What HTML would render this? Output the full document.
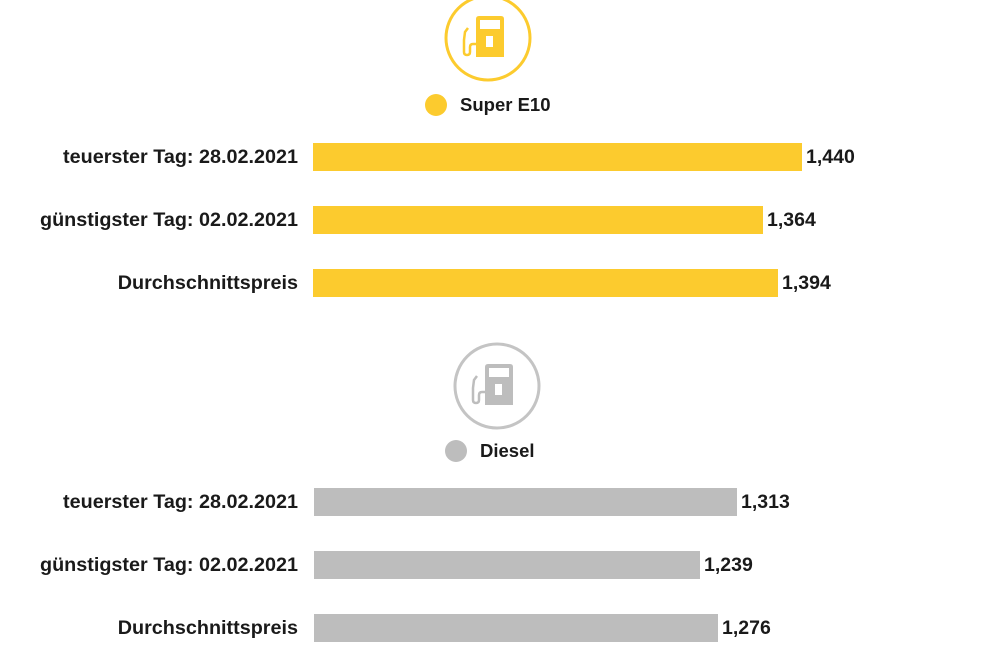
<!DOCTYPE html>
<html><head><meta charset="utf-8"><style>
html,body{margin:0;padding:0;background:#fff}
body{width:990px;height:660px;position:relative;overflow:hidden;font-family:"Liberation Sans",sans-serif;font-weight:bold;color:#1a1a1a}
.l{position:absolute;right:692px;font-size:19.8px;line-height:28px;white-space:nowrap}
.b{position:absolute;height:28px}
.v{position:absolute;font-size:19.5px;line-height:28px;white-space:nowrap}
.y{background:#fccb2e}.g{background:#bdbdbd}
</style></head><body>
<svg width="990" height="660" style="position:absolute;left:0;top:0">
<g>
<circle cx="488" cy="38" r="42" fill="none" stroke="#fccb2e" stroke-width="3"/>
<path d="M479 16 h22 q3 0 3 3 v38 h-28 v-38 q0-3 3-3z" fill="#fccb2e"/>
<rect x="480" y="20" width="20" height="9" fill="#fff"/>
<rect x="486" y="36" width="7" height="11" fill="#fff"/>
<path d="M476 44 h-3 q-3 0-3 3 v5 q0 3-3 3 q-3 0-3-3 v-12 l1-8 l3-4" fill="none" stroke="#fccb2e" stroke-width="2.5"/>
<circle cx="436" cy="105" r="11" fill="#fccb2e"/>
</g>
<g>
<circle cx="497" cy="386" r="42" fill="none" stroke="#c4c4c4" stroke-width="3"/>
<path d="M488 364 h22 q3 0 3 3 v38 h-28 v-38 q0-3 3-3z" fill="#bdbdbd"/>
<rect x="489" y="368" width="20" height="9" fill="#fff"/>
<rect x="495" y="384" width="7" height="11" fill="#fff"/>
<path d="M485 392 h-3 q-3 0-3 3 v5 q0 3-3 3 q-3 0-3-3 v-12 l1-8 l3-4" fill="none" stroke="#bdbdbd" stroke-width="2.5"/>
<circle cx="456" cy="451" r="11" fill="#bdbdbd"/>
</g>
</svg>
<div class="v" style="left:460px;top:91px;font-size:18.5px">Super E10</div>
<div class="v" style="left:480px;top:437px;font-size:18.5px">Diesel</div>

<div class="l" style="top:143px">teuerster Tag: 28.02.2021</div>
<div class="b y" style="left:313px;top:143px;width:489px"></div>
<div class="v" style="left:806px;top:143px">1,440</div>
<div class="l" style="top:206px">günstigster Tag: 02.02.2021</div>
<div class="b y" style="left:313px;top:206px;width:450px"></div>
<div class="v" style="left:767px;top:206px">1,364</div>
<div class="l" style="top:269px">Durchschnittspreis</div>
<div class="b y" style="left:313px;top:269px;width:465px"></div>
<div class="v" style="left:782px;top:269px">1,394</div>

<div class="l" style="top:488px">teuerster Tag: 28.02.2021</div>
<div class="b g" style="left:314px;top:488px;width:423px"></div>
<div class="v" style="left:741px;top:488px">1,313</div>
<div class="l" style="top:551px">günstigster Tag: 02.02.2021</div>
<div class="b g" style="left:314px;top:551px;width:386px"></div>
<div class="v" style="left:704px;top:551px">1,239</div>
<div class="l" style="top:614px">Durchschnittspreis</div>
<div class="b g" style="left:314px;top:614px;width:404px"></div>
<div class="v" style="left:722px;top:614px">1,276</div>
</body></html>
